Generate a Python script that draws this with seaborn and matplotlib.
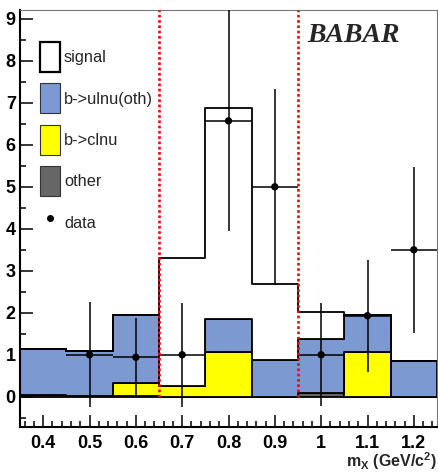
import numpy as np
import pandas as pd
import matplotlib
matplotlib.use("Agg")
import matplotlib.pyplot as plt
from matplotlib.patches import Patch
from matplotlib.lines import Line2D
from matplotlib.ticker import FixedLocator, MultipleLocator
import seaborn as sns

# ---- histogram binning in m_X (GeV/c^2) ----
bin_edges = [0.35, 0.45, 0.55, 0.65, 0.75, 0.85, 0.95, 1.05, 1.15, 1.25]
bin_centers = [0.4, 0.5, 0.6, 0.7, 0.8, 0.9, 1.0, 1.1, 1.2]

# ---- stacked expectations per bin (bottom to top) ----
other = [0.04, 0.03, 0.02, 0.0, 0.0, 0.0, 0.10, 0.0, 0.0]
b_clnu = [0.0, 0.0, 0.30, 0.25, 1.07, 0.0, 0.0, 1.07, 0.0]
b_ulnu_oth = [1.10, 1.05, 1.63, 0.0, 0.77, 0.88, 1.27, 0.88, 0.86]
signal = [0.0, 0.0, 0.0, 3.05, 5.03, 1.80, 0.64, 0.0, 0.0]

# ---- data points ----
data_x = [0.5, 0.6, 0.7, 0.8, 0.9, 1.0, 1.1, 1.2]
data_y = [1.0, 0.94, 1.0, 6.57, 5.0, 1.0, 1.93, 3.5]
data_err = [1.25, 0.94, 1.24, 2.63, 2.34, 1.23, 1.33, 1.98]

# signal window boundaries
window = [0.65, 0.95]

x_ticks = [0.4, 0.5, 0.6, 0.7, 0.8, 0.9, 1.0, 1.1, 1.2]
x_ticklabels = ["0.4", "0.5", "0.6", "0.7", "0.8", "0.9", "1", "1.1", "1.2"]
y_ticks = [0, 1, 2, 3, 4, 5, 6, 7, 8, 9]

components = ["signal", "b->ulnu(oth)", "b->clnu", "other"]
colors = {"signal": "#ffffff", "b->ulnu(oth)": "#7d99d1",
          "b->clnu": "#ffff00", "other": "#666666"}

sns.set_theme(style="ticks")
plt.rcParams["font.family"] = ["Liberation Sans", "DejaVu Sans"]
plt.rcParams["mathtext.fontset"] = "custom"
plt.rcParams["mathtext.bf"] = "Liberation Sans:bold"
plt.rcParams["mathtext.rm"] = "Liberation Sans"

fig = plt.figure(figsize=(4.38, 4.72), dpi=100)
ax = fig.add_axes([20 / 438, 45 / 472, 417 / 438, 417 / 472])

weights = {"signal": signal, "b->ulnu(oth)": b_ulnu_oth,
           "b->clnu": b_clnu, "other": other}
df = pd.DataFrame({
    "mx": np.tile(bin_centers, len(components)),
    "w": np.concatenate([weights[c] for c in components]),
    "comp": np.repeat(components, len(bin_centers)),
})

sns.histplot(data=df, x="mx", weights="w", hue="comp", hue_order=components,
             bins=bin_edges, multiple="stack", element="step", fill=True,
             palette=colors, alpha=1, edgecolor="black", linewidth=1.3,
             legend=False, ax=ax)

# data with error bars
ax.errorbar(data_x, data_y, yerr=data_err, xerr=0.05, fmt="none",
            ecolor="black", elinewidth=1.1, capsize=0, zorder=5)
sns.scatterplot(x=data_x, y=data_y, color="black", s=28, edgecolor="none",
                zorder=6, ax=ax)

# signal window
ax.vlines(window, 0, 9.21, colors="red", linestyles=(0, (1, 1)),
          linewidth=1.9, zorder=7)

ax.set_xlim(0.35, 1.25)
ax.set_ylim(-0.72, 9.21)

ax.xaxis.set_major_locator(FixedLocator(x_ticks))
ax.set_xticklabels(x_ticklabels)
ax.xaxis.set_minor_locator(MultipleLocator(0.02))
ax.yaxis.set_major_locator(FixedLocator(y_ticks))
ax.yaxis.set_minor_locator(MultipleLocator(0.5))

ax.tick_params(which="both", direction="in", width=1.1, colors="black",
               top=False, right=False)
ax.tick_params(which="major", length=9)
ax.tick_params(which="minor", length=4.5)
ax.tick_params(axis="x", which="major", pad=6.0)
ax.tick_params(axis="y", which="major", pad=3)
for lab in ax.get_xticklabels() + ax.get_yticklabels():
    lab.set_fontsize(13)
    lab.set_fontweight("bold")

for side in ["left", "bottom"]:
    ax.spines[side].set_linewidth(1.5)
    ax.spines[side].set_color("black")
for side in ["top", "right"]:
    ax.spines[side].set_visible(True)
    ax.spines[side].set_linewidth(0.8)
    ax.spines[side].set_color("#777777")

ax.set_xlabel("")
ax.set_ylabel("")
fig.text(437 / 438, 1 - 467.5 / 472,
         r"m$_{\mathbf{X}}$ (GeV/c$^{\mathbf{2}}$)",
         fontsize=11.5, fontweight="bold", ha="right", va="baseline")

ax.text(307 / 438, 1 - 42.5 / 472, "BABAR", transform=fig.transFigure,
        family="Liberation Serif", style="italic", fontweight="bold",
        fontsize=20, ha="left", va="baseline")

handles = [
    Patch(facecolor="white", edgecolor="black", linewidth=1.6),
    Patch(facecolor="#7d99d1", edgecolor="#333333", linewidth=0.8),
    Patch(facecolor="#ffff00", edgecolor="#333333", linewidth=0.8),
    Patch(facecolor="#666666", edgecolor="#333333", linewidth=0.8),
    Line2D([], [], ls="none", marker="o", color="black", markersize=4),
]
labels = ["signal", "b->ulnu(oth)", "b->clnu", "other", "data"]
ax.legend(handles, labels, loc="upper left",
          bbox_to_anchor=(40 / 438, 1 - 42 / 472),
          bbox_transform=fig.transFigure, frameon=False, fontsize=11.8,
          handlelength=1.25, handleheight=2.44, labelspacing=0.70,
          handletextpad=0.22, borderpad=0, borderaxespad=0)

fig.savefig("out.png", dpi=100)
